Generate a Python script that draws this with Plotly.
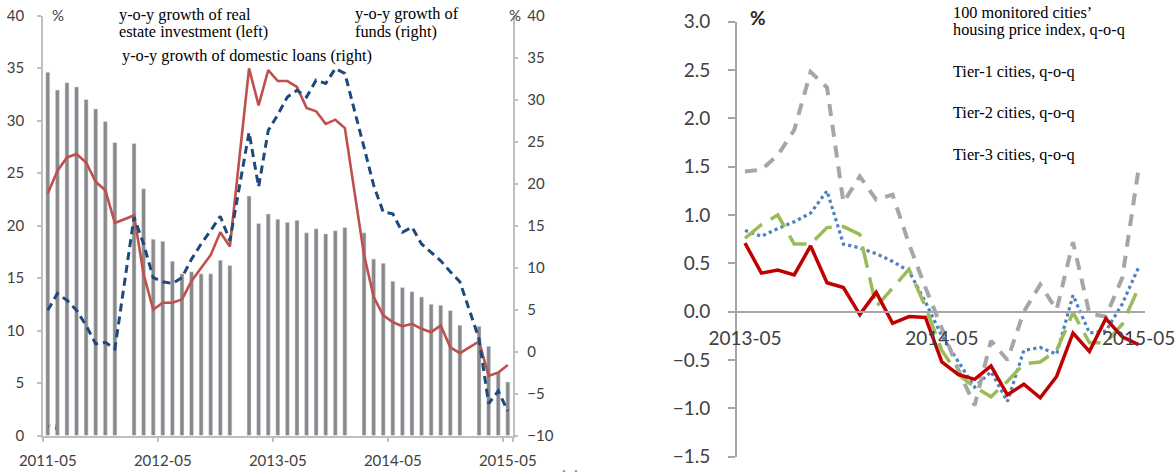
import plotly.graph_objects as go
import pandas as pd

W, H = 1176, 474

# ---------------- data: left panel (monthly, 2011-05 .. 2015-05) ----------------
months_left = [p.strftime("%Y-%m") for p in pd.period_range("2011-05", "2015-05", freq="M")]

# y-o-y growth of real estate investment, % (left axis); January not published
investment_yoy = [34.6, 32.9, 33.6, 33.2, 32.0, 31.1, 29.9, 27.9,
                  None, 27.8, 23.5, 18.7, 18.5, 16.6, 15.4, 15.6, 15.4, 15.4, 16.7, 16.2,
                  None, 22.8, 20.2, 21.1, 20.6, 20.3, 20.5, 19.3, 19.7, 19.2, 19.5, 19.8,
                  None, 19.3, 16.8, 16.4, 14.7, 14.1, 13.7, 13.2, 12.5, 12.4, 11.9, 10.5,
                  None, 10.4, 8.5, 6.0, 5.1]

# y-o-y growth of funds, % (right axis)
funds_yoy = [18.8, 21.5, 23.1, 23.5, 22.5, 20.2, 19.2, 15.3,
             None, 16.2, 9.2, 5.0, 5.8, 5.8, 6.2, 8.4, 10.0, 11.5, 14.2, 12.5,
             None, 33.7, 29.3, 33.5, 32.2, 32.2, 31.5, 29.0, 28.6, 27.1, 27.6, 26.6,
             None, 11.5, 6.5, 4.3, 3.5, 3.0, 3.3, 2.7, 2.3, 3.1, 0.5, -0.2,
             None, 1.2, -2.9, -2.5, -1.6]

# y-o-y growth of domestic loans, % (right axis)
loans_yoy = [4.9, 6.9, 6.1, 4.9, 3.1, 0.9, 1.1, 0.3,
             None, 16.0, 12.8, 8.8, 8.3, 8.1, 8.8, 11.0, 12.8, 14.4, 16.1, 13.2,
             None, 26.1, 19.6, 26.3, 28.2, 30.3, 31.1, 30.3, 32.3, 31.9, 33.7, 33.1,
             None, 24.3, 19.8, 16.6, 16.4, 14.2, 14.8, 12.8, 11.8, 10.8, 9.5, 8.3,
             None, 1.5, -6.2, -4.7, -7.1]

left_tick_labels = ["2011-05", "2012-05", "2013-05", "2014-05", "2015-05"]

# ---------------- data: right panel (monthly, 2013-05 .. 2015-05) ----------------
months_right = [p.strftime("%Y-%m") for p in pd.period_range("2013-05", "2015-05", freq="M")]

hpi100_qoq = [0.84, 0.78, 0.86, 0.93, 1.02, 1.25, 0.70, 0.66, 0.60, 0.52, 0.42, 0.10,
              -0.25, -0.52, -0.78, -0.62, -0.93, -0.40, -0.37, -0.44, 0.17, -0.22,
              -0.20, 0.08, 0.46]
tier1_qoq = [1.45, 1.47, 1.62, 1.88, 2.48, 2.32, 1.13, 1.40, 1.16, 1.21, 0.70, 0.25,
             -0.17, -0.60, -0.97, -0.30, -0.50, 0.00, 0.28, 0.02, 0.72, -0.02,
             -0.05, 0.35, 1.48]
tier2_qoq = [0.76, 0.90, 1.00, 0.70, 0.70, 0.87, 0.88, 0.80, 0.05, 0.25, 0.44, 0.05,
             -0.40, -0.65, -0.78, -0.88, -0.72, -0.54, -0.52, -0.40, -0.01, -0.32,
             -0.32, -0.13, 0.25]
tier3_qoq = [0.71, 0.40, 0.43, 0.38, 0.68, 0.30, 0.25, -0.03, 0.20, -0.12, -0.05, -0.06,
             -0.52, -0.65, -0.70, -0.56, -0.86, -0.75, -0.89, -0.67, -0.22, -0.41,
             -0.07, -0.26, -0.34]

right_tick_labels = ["2013-05", "2014-05", "2015-05"]

# ---------------- styling helpers ----------------
def px(x):
    return x / W

def py(y):
    return 1 - y / H

SANS = "Lato"
SERIF = "Liberation Serif"
AX_GREY = "#BFBFBF"
AX_GREY2 = "#A6A6A6"
TXT = "#404040"

fig = go.Figure()

# left panel
fig.add_trace(go.Bar(x=months_left, y=investment_yoy, marker_color="#898989",
                     width=0.42, xaxis="x", yaxis="y", name="investment"))
fig.add_trace(go.Scatter(x=months_left, y=funds_yoy, mode="lines", connectgaps=True,
                         line=dict(color="#C0504D", width=2.6), xaxis="x", yaxis="y2",
                         name="funds"))
fig.add_trace(go.Scatter(x=months_left, y=loans_yoy, mode="lines", connectgaps=True,
                         line=dict(color="#1F497D", width=3, dash="8px,5px"),
                         xaxis="x", yaxis="y2", name="loans"))

# right panel
fig.add_trace(go.Scatter(x=months_right, y=hpi100_qoq, mode="lines",
                         line=dict(color="#4F81BD", width=3.2, dash="dot"),
                         xaxis="x2", yaxis="y3", name="100 cities"))
fig.add_trace(go.Scatter(x=months_right, y=tier1_qoq, mode="lines",
                         line=dict(color="#A6A6A6", width=4, dash="12px,9px"),
                         xaxis="x2", yaxis="y3", name="tier1"))
fig.add_trace(go.Scatter(x=months_right, y=tier2_qoq, mode="lines",
                         line=dict(color="#9BBB59", width=3.5, dash="22px,10px"),
                         xaxis="x2", yaxis="y3", name="tier2"))
fig.add_trace(go.Scatter(x=months_right, y=tier3_qoq, mode="lines",
                         line=dict(color="#C00000", width=3.5),
                         xaxis="x2", yaxis="y3", name="tier3"))

ydom_r = [py(456.7), py(21.7)]
zero_pos = ydom_r[0] + (ydom_r[1] - ydom_r[0]) * (0 - (-1.5)) / 4.5

fig.update_layout(
    width=W, height=H,
    margin=dict(l=0, r=0, t=0, b=0, autoexpand=False),
    paper_bgcolor="white", plot_bgcolor="white",
    showlegend=False,
    xaxis=dict(type="category", domain=[px(43), px(512.6)], range=[-0.5, 48.5],
               anchor="y", tickmode="array", tickvals=left_tick_labels,
               ticktext=left_tick_labels, tickson="boundaries", tickangle=0,
               ticks="outside", ticklen=5, tickcolor=AX_GREY, tickwidth=1.5,
               showline=True, linecolor=AX_GREY, linewidth=1.5, showgrid=False,
               automargin=False,
               tickfont=dict(family=SANS, size=15, color=TXT), ticklabelstandoff=11),
    yaxis=dict(domain=[py(435.5), py(15.5)], range=[0, 40], dtick=5, anchor="x",
               ticks="outside", ticklen=4, tickcolor=AX_GREY, tickwidth=1.5,
               showline=True, linecolor=AX_GREY, linewidth=1.5, showgrid=False,
               zeroline=False, automargin=False,
               tickfont=dict(family=SANS, size=15, color=TXT), ticklabelstandoff=10),
    yaxis2=dict(overlaying="y", side="right", anchor="x", range=[-10, 40], dtick=5,
                ticks="outside", ticklen=4, tickcolor=AX_GREY, tickwidth=1.5,
                showline=True, linecolor=AX_GREY, linewidth=1.5, showgrid=False,
                zeroline=False, automargin=False,
                tickfont=dict(family=SANS, size=15, color=TXT), ticklabelstandoff=6),
    xaxis2=dict(type="category", domain=[px(736.8), px(1145.2)], range=[-0.5, 24.4],
                anchor="free", position=zero_pos, tickmode="array",
                tickvals=right_tick_labels, ticktext=right_tick_labels, ticks="",
                tickangle=0, automargin=False,
                showline=True, linecolor=AX_GREY2, linewidth=1.5, showgrid=False,
                tickfont=dict(family=SANS, size=19, color=TXT), ticklabelstandoff=10),
    yaxis3=dict(domain=ydom_r, range=[-1.5, 3.0], dtick=0.5, tickformat=".1f",
                anchor="x2", ticks="outside", ticklen=7, tickcolor=AX_GREY2,
                tickwidth=1.5, showline=True, linecolor=AX_GREY2, linewidth=1.5,
                showgrid=False, zeroline=False, automargin=False,
                tickfont=dict(family=SANS, size=19, color=TXT), ticklabelstandoff=14),
)

# ---------------- legend keys (drawn as paper shapes) + text ----------------
shapes = [
    dict(type="rect", x0=px(75), x1=px(118), y0=py(28.3), y1=py(18.3),
         fillcolor="#898989", line=dict(width=0)),
    dict(type="line", x0=px(73), x1=px(120), y0=py(55), y1=py(55),
         line=dict(color="#1F497D", width=3, dash="8px,5px")),
    dict(type="line", x0=px(305), x1=px(350), y0=py(23), y1=py(23),
         line=dict(color="#C0504D", width=3)),
    dict(type="line", x0=px(887), x1=px(950), y0=py(20), y1=py(20),
         line=dict(color="#4F81BD", width=3.2, dash="dot")),
    dict(type="line", x0=px(887), x1=px(937), y0=py(65), y1=py(65),
         line=dict(color="#A6A6A6", width=4, dash="12px,9px")),
    dict(type="line", x0=px(887), x1=px(951), y0=py(108), y1=py(108),
         line=dict(color="#9BBB59", width=3.5, dash="34px,14px")),
    dict(type="line", x0=px(887), x1=px(951), y0=py(154), y1=py(154),
         line=dict(color="#C00000", width=3.5)),
]
fig.update_layout(shapes=shapes)

def note(text, x, y, size=16.3, family=SERIF, color="#000000", xanchor="left", bold=False):
    if bold:
        text = "<b>" + text + "</b>"
    return dict(text=text, x=px(x), y=py(y), xref="paper", yref="paper",
                xanchor=xanchor, yanchor="middle", showarrow=False, borderpad=0,
                font=dict(family=family, size=size, color=color))

annotations = [
    note("y-o-y growth of real", 118, 14.5),
    note("estate investment (left)", 118, 31.5),
    note("y-o-y growth of domestic loans (right)", 121, 55),
    note("y-o-y growth of", 354, 13.5),
    note("funds (right)", 354, 31.5),
    note("%", 58, 15, size=15, family=SANS, color=TXT, xanchor="center"),
    note("%", 515, 15, size=15, family=SANS, color=TXT, xanchor="center"),
    note("%", 758, 17, size=19, family=SANS, color="#262626", xanchor="center", bold=True),
    note("100 monitored cities\u2019", 952, 12, size=16.3),
    note("housing price index, q-o-q", 952, 29.5, size=16.3),
    note("Tier-1 cities, q-o-q", 952, 71, size=16.3),
    note("Tier-2 cities, q-o-q", 952, 112, size=16.3),
    note("Tier-3 cities, q-o-q", 952, 154, size=16.3),
    note(".&nbsp;&nbsp;.", 570, 465, size=16, family=SANS, color="#7F7F7F", xanchor="center"),
]
fig.update_layout(annotations=annotations)

fig.write_html("out.html", config={"displayModeBar": False},
               post_script="document.body.style.margin='0';document.body.style.overflow='hidden';")
